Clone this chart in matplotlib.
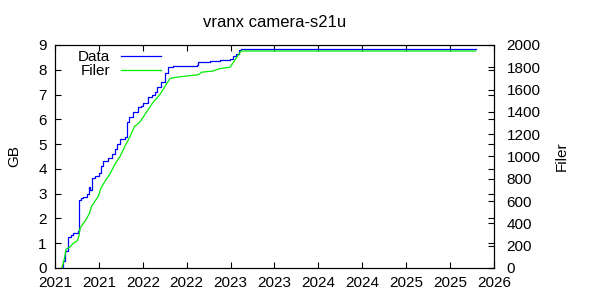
import matplotlib
matplotlib.use('Agg')
import matplotlib.pyplot as plt

# fractional years / GB for the data curve
data_t = [2021.076, 2021.09, 2021.114, 2021.152, 2021.18, 2021.21, 2021.266, 2021.272,
          2021.277, 2021.30, 2021.323, 2021.361, 2021.385, 2021.395, 2021.418, 2021.456,
          2021.505, 2021.520, 2021.550, 2021.607, 2021.645, 2021.683, 2021.710, 2021.740,
          2021.797, 2021.816, 2021.847, 2021.892, 2021.941, 2021.98, 2022.006, 2022.063,
          2022.101, 2022.139, 2022.158, 2022.203, 2022.253, 2022.291, 2022.348, 2022.614,
          2022.632, 2022.765, 2022.879, 2022.993, 2023.031, 2023.062, 2023.100, 2023.119,
          2025.79]
data_gb = [0.0, 0.3, 0.7, 1.25, 1.35, 1.42, 1.5, 2.2,
           2.75, 2.82, 2.88, 3.0, 3.25, 3.15, 3.62, 3.72,
           3.85, 4.1, 4.3, 4.45, 4.6, 4.8, 5.02, 5.2,
           5.3, 5.9, 6.1, 6.3, 6.5, 6.55, 6.65, 6.9,
           7.0, 7.1, 7.3, 7.5, 7.85, 8.1, 8.17, 8.2,
           8.3, 8.35, 8.4, 8.45, 8.55, 8.65, 8.78, 8.83,
           8.83]

# fractional years / number of files
files_t = [2021.076, 2021.095, 2021.114, 2021.125, 2021.171, 2021.209, 2021.254, 2021.273,
           2021.285, 2021.323, 2021.361, 2021.391, 2021.418, 2021.456, 2021.494, 2021.520,
           2021.569, 2021.626, 2021.683, 2021.740, 2021.809, 2021.854, 2021.904, 2021.968,
           2022.044, 2022.120, 2022.196, 2022.264, 2022.310, 2022.386, 2022.500, 2022.632,
           2022.670, 2022.803, 2022.879, 2022.993, 2023.031, 2023.069, 2023.119, 2025.79]
files_n = [0, 44, 111, 167, 189, 222, 244, 289,
           356, 400, 444, 489, 556, 600, 644, 711,
           778, 844, 933, 1000, 1111, 1178, 1267, 1311,
           1400, 1489, 1556, 1644, 1700, 1711, 1722, 1733,
           1756, 1767, 1789, 1800, 1844, 1889, 1946, 1946]

x_ticks = [2021 + 0.5 * i for i in range(11)]
x_labels = [str(int(t)) for t in x_ticks]

plt.rcParams['font.family'] = 'Liberation Sans'
plt.rcParams['font.size'] = 11

fig = plt.figure(figsize=(6, 3), dpi=100)
ax = fig.add_axes([0.0917, 0.1067, 0.7316, 0.7433])
ax2 = ax.twinx()

l1, = ax.plot(data_t, data_gb, color='#0000ff', lw=0.9, drawstyle='steps-post', label='Data')
l2, = ax2.plot(files_t, files_n, color='#00ee00', lw=0.9, label='Filer')

ax.set_xlim(2021, 2026)
ax.set_ylim(0, 9)
ax2.set_ylim(0, 2000)
ax.set_xticks(x_ticks)
ax.set_xticklabels(x_labels)
ax.set_yticks(range(10))
ax2.set_yticks(range(0, 2001, 200))

ax.tick_params(direction='in', top=True, right=True, length=4, width=0.8)
ax.tick_params(axis='x', pad=6)
ax.tick_params(axis='y', pad=6)
ax2.tick_params(direction='in', length=4, width=0.8, pad=9)

ax.set_ylabel('GB', labelpad=12)
ax2.set_ylabel('Filer', labelpad=10)
ax.set_title('vranx camera-s21u', fontsize=12, pad=13)

ax.legend(handles=[l1, l2], loc='upper left', markerfirst=False, frameon=False,
          handlelength=2.6, handletextpad=0.7, borderaxespad=0.1, labelspacing=0.0,
          bbox_to_anchor=(0.035, 1.01))

plt.savefig('out.png')
